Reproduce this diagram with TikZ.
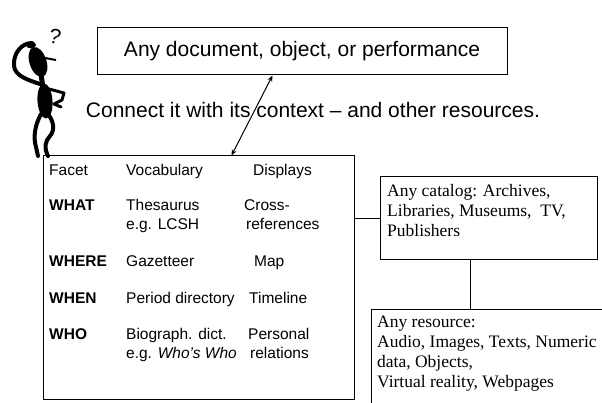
\documentclass[tikz,border=0pt]{standalone}
\usepackage{fontspec}
\setmainfont{Liberation Sans}
\newfontfamily\timesfont{Liberation Serif}
\usetikzlibrary{arrows.meta, positioning, calc}

\tikzstyle{framebox} = [draw, rectangle, line width=1pt, inner sep=0pt]
\tikzstyle{celltext} = [anchor=base west, inner sep=0pt, font=\fontsize{15.5}{18}\selectfont]
\tikzstyle{facettext} = [anchor=base west, inner sep=0pt, font=\fontsize{15.5}{18}\selectfont\bfseries]
\tikzstyle{srctext} = [anchor=base west, inner sep=0pt, font=\fontsize{17.5}{20}\selectfont\timesfont]
\tikzstyle{link} = [line width=1pt]
\tikzstyle{arrw} = [line width=1pt, {Stealth[length=6pt,width=5pt]}-{Stealth[length=6pt,width=5pt]}]
\tikzstyle{ink} = [line width=4pt, line cap=round, line join=round]

\begin{document}
\begin{tikzpicture}[x=1pt, y=-1pt]
    \useasboundingbox (0,0) rectangle (602,403);
    \clip (0,0) rectangle (602,403);

    % the puzzled little man
    \fill[shift={(38,62)}, rotate=18] (0,0) ellipse (8.5pt and 15.5pt);
    \draw[line width=2pt] (45,58) -- (56,60);
    \node (qmark) [inner sep=0pt, rotate=-12, font=\fontsize{21}{21}\selectfont] at (55,37) {?};
    \draw[ink] (40,84) .. controls (28,80) and (15,76) .. (14,66) .. controls (13,54) and (21,43) .. (32,43);
    \fill (31,45) ellipse (5pt and 3.5pt);
    \draw[ink, line width=5pt] (41,74) -- (43,88);
    \fill[shift={(45,101)}, rotate=4] (0,0) ellipse (7.5pt and 17.5pt);
    \draw[ink, line width=3pt] (49,89) -- (64,93) -- (62,100) -- (54,104) -- (61,107);
    \draw[ink] (41,114) .. controls (35,125) and (33,137) .. (36,147) -- (38,156);
    \draw[ink] (48,114) .. controls (54,122) and (55,130) .. (50,136) .. controls (45,141) and (44,148) .. (48,156);

    % boxes
    \node (doc) [framebox, minimum width=410pt, minimum height=47pt, font=\fontsize{21}{24}\selectfont] at (302,51.5) {Any document, object, or performance};
    \node (ctx) [inner sep=0pt, font=\fontsize{21}{24}\selectfont] at (313,110) {Connect it with its context -- and other resources.};
    \node (facets) [framebox, minimum width=311pt, minimum height=243pt] at (198.5,277.5) {};
    \node (catalog) [framebox, minimum width=217pt, minimum height=83pt] at (488.5,218.5) {};
    \node (resource) [framebox, minimum width=260pt, minimum height=120pt, anchor=north west] at (371,309) {};

    % facet table
    \node (hfacet) [celltext] at (49,176) {Facet};
    \node (hvocab) [celltext] at (126,176) {Vocabulary};
    \node (hdisp) [celltext] at (253,176) {Displays};
    \node (what) [facettext] at (49,211) {WHAT};
    \node (whatvoc) [celltext] at (126,211) {Thesaurus};
    \node (whatvoc2) [celltext] at (126,230) {e.g. LCSH};
    \node (whatdisp) [celltext] at (244,211) {Cross-};
    \node (whatdisp2) [celltext] at (246,230) {references};
    \node (where) [facettext] at (49,267) {WHERE};
    \node (wherevoc) [celltext] at (126,267) {Gazetteer};
    \node (wheredisp) [celltext] at (254,267) {Map};
    \node (when) [facettext] at (49,303) {WHEN};
    \node (whenvoc) [celltext] at (126,303) {Period directory};
    \node (whendisp) [celltext] at (249,303) {Timeline};
    \node (who) [facettext] at (49,339) {WHO};
    \node (whovoc) [celltext] at (126,339) {Biograph. dict.};
    \node (whovoc2) [celltext] at (126,358) {e.g. \textit{Who's Who}};
    \node (whodisp) [celltext] at (248,339) {Personal};
    \node (whodisp2) [celltext] at (250,358) {relations};

    % catalogs and resources
    \node (cat1) [srctext] at (387,197) {Any catalog: Archives,};
    \node (cat2) [srctext] at (387,217) {Libraries, Museums, \ TV,};
    \node (cat3) [srctext] at (387,237) {Publishers};
    \node (res1) [srctext] at (377,327) {Any resource:};
    \node (res2) [srctext] at (377,347) {Audio, Images, Texts, Numeric};
    \node (res3) [srctext] at (377,367) {data, Objects,};
    \node (res4) [srctext] at (377,387) {Virtual reality, Webpages};

    % connectors
    \draw [arrw] ([xshift=176pt]doc.south west) -- ([xshift=189pt]facets.north west);
    \draw [link] (catalog.west) -- (catalog.west -| facets.east);
    \coordinate (drop) at ([xshift=-18.5pt]catalog.south);
    \draw [link] (drop) -- (drop |- resource.north);
\end{tikzpicture}
\end{document}
